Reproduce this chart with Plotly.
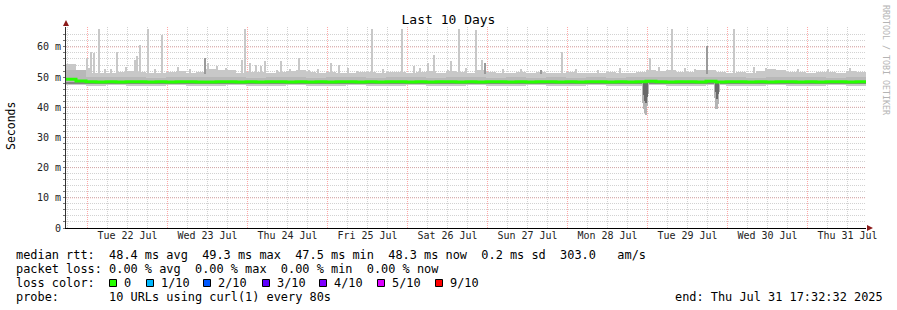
import plotly.graph_objects as go
import pandas as pd

# ---------------- data ----------------
START = "2025-07-21 17:32:32"
END = "2025-07-31 17:32:32"

# upper edge of the smoke, 3-hour bins (ms)
ping_max = [54.2, 52.5, 51.5, 51.5, 51.2, 51.6, 52.0, 51.8, 51.5, 51.3,
            51.8, 52.0, 51.5, 51.8, 52.8, 52.5, 52.2, 51.5, 51.8, 51.6,
            51.4, 51.8, 52.0, 52.3, 51.8, 51.4, 51.7, 51.5, 51.3, 51.6,
            51.8, 51.4, 51.6, 51.8, 51.5, 51.6, 51.9, 51.5, 52.0, 51.6,
            51.4, 52.2, 51.8, 51.5, 51.4, 51.6, 51.3, 51.7, 51.5, 51.4,
            51.6, 51.3, 51.5, 51.4, 51.6, 51.5, 51.3, 51.6, 52.3, 52.0,
            52.4, 51.6, 51.8, 52.2, 52.4, 51.6, 51.5, 51.7, 51.5, 52.0,
            52.8, 52.2, 51.6, 51.8, 51.5, 51.7, 51.6, 51.4, 52.0, 51.6]

# median rtt, 3-hour bins (ms)
median_rtt = [49.3, 48.7, 48.5, 48.4, 48.5, 48.4, 48.5, 48.5, 48.4, 48.5,
              48.4, 48.5, 48.5, 48.4, 48.4, 48.5, 48.5, 48.4, 48.5, 48.4,
              48.5, 48.5, 48.4, 48.5, 48.4, 48.5, 48.4, 48.5, 48.5, 48.4,
              48.5, 48.4, 48.5, 48.5, 48.4, 48.5, 48.4, 48.5, 48.5, 48.4,
              48.5, 48.4, 48.5, 48.5, 48.4, 48.5, 48.4, 48.5, 48.5, 48.4,
              48.5, 48.4, 48.5, 48.5, 48.4, 48.5, 48.4, 48.5, 48.6, 48.5,
              48.4, 48.5, 48.5, 48.4, 48.6, 48.4, 48.5, 48.5, 48.4, 48.5,
              48.4, 48.5, 48.5, 48.4, 48.5, 48.4, 48.5, 48.5, 48.4, 48.5]

# inner smoke layers, 6-hour bins (ms)
ping_upper = [52.2, 50.1, 49.9, 50.0, 49.8, 49.9, 50.1, 50.0, 49.9, 49.8,
              50.0, 49.9, 49.8, 49.9, 50.0, 49.8, 49.9, 49.9, 49.8, 50.0,
              49.9, 49.8, 49.9, 49.8, 49.9, 49.8, 49.9, 49.8, 49.9, 50.1,
              49.9, 50.0, 50.1, 49.9, 49.8, 49.9, 50.0, 49.9, 49.8, 49.9]
ping_lower = [47.9, 47.7, 47.7, 47.6, 47.7, 47.6, 47.7, 47.7, 47.6, 47.7,
              47.6, 47.7, 47.7, 47.6, 47.7, 47.6, 47.7, 47.7, 47.6, 47.7,
              47.6, 47.7, 47.6, 47.7, 47.7, 47.6, 47.7, 47.6, 47.7, 47.6,
              47.7, 47.6, 47.7, 47.6, 47.7, 47.7, 47.6, 47.7, 47.6, 47.7]
ping_min = [47.4, 47.2, 47.3, 47.2, 47.2, 47.3, 47.2, 47.2, 47.3, 47.2,
            47.2, 47.3, 47.2, 47.2, 47.3, 47.2, 47.2, 47.3, 47.2, 47.2,
            47.3, 47.2, 47.2, 47.3, 47.2, 47.2, 47.3, 47.2, 47.2, 47.3,
            47.2, 47.2, 47.3, 47.2, 47.2, 47.3, 47.2, 47.2, 47.3, 47.2]

# individual high pings (light smoke spikes)
spike_times = ["2025-07-21 23:42", "2025-07-22 00:54", "2025-07-22 01:48", "2025-07-22 03:18",
               "2025-07-22 05:06", "2025-07-22 08:42", "2025-07-22 14:06", "2025-07-22 14:42",
               "2025-07-22 15:36", "2025-07-22 18:00", "2025-07-22 22:12", "2025-07-23 12:00",
               "2025-07-23 14:42", "2025-07-23 22:12", "2025-07-23 23:06", "2025-07-24 00:36",
               "2025-07-24 02:24", "2025-07-24 03:54", "2025-07-24 05:06", "2025-07-24 08:42",
               "2025-07-24 09:54", "2025-07-24 15:18", "2025-07-24 18:18", "2025-07-25 00:54",
               "2025-07-25 03:18", "2025-07-25 08:42", "2025-07-25 13:12", "2025-07-25 22:12",
               "2025-07-26 01:48", "2025-07-26 06:00", "2025-07-26 07:48", "2025-07-26 12:00",
               "2025-07-26 12:54", "2025-07-26 15:18", "2025-07-26 20:24", "2025-07-26 22:12",
               "2025-07-27 22:12", "2025-07-29 00:36", "2025-07-29 07:12", "2025-07-30 01:48",
               # small bumps on the smoke edge
               "2025-07-22 00:18", "2025-07-22 06:54", "2025-07-22 11:24", "2025-07-22 20:06",
               "2025-07-23 03:00", "2025-07-23 06:36", "2025-07-23 17:24", "2025-07-24 12:36",
               "2025-07-24 21:00", "2025-07-25 06:00", "2025-07-25 16:30", "2025-07-26 03:36",
               "2025-07-26 17:24", "2025-07-27 04:30", "2025-07-27 09:54", "2025-07-28 02:24",
               "2025-07-28 09:00", "2025-07-28 15:36", "2025-07-29 03:18", "2025-07-29 11:06",
               "2025-07-29 14:06", "2025-07-30 07:48", "2025-07-30 11:24", "2025-07-30 13:12",
               "2025-07-30 21:00", "2025-07-31 06:00", "2025-07-31 12:36"]
spike_tops = [56.4, 58.4, 58.0, 66.0, 52.6, 58.3, 55.7, 57.0,
              60.8, 66.0, 64.0, 54.7, 53.7, 55.7, 66.0, 54.7,
              54.0, 53.7, 55.4, 52.4, 55.4, 56.4, 52.4, 54.7,
              54.0, 52.0, 66.0, 66.0, 53.7, 54.7, 57.4, 52.4,
              55.4, 66.0, 65.5, 55.7, 58.4, 56.4, 66.0, 66.0,
              53.0, 52.8, 53.2, 52.6, 53.4, 52.7, 53.0, 52.8,
              52.6, 53.0, 52.7, 53.1, 52.9, 52.6, 52.8, 52.7,
              52.5, 52.9, 53.2, 53.0, 52.8, 53.4, 53.0, 52.7,
              52.8, 52.6, 53.1]

# darker narrow spikes
dark_spike_times = ["2025-07-23 11:06", "2025-07-26 23:06", "2025-07-27 15:54", "2025-07-29 17:42"]
dark_spike_tops = [56.4, 54.7, 52.4, 60.3]

# low pings (dips below median)
dip_times = ["2025-07-28 22:30", "2025-07-28 22:48", "2025-07-28 23:06", "2025-07-28 23:24",
             "2025-07-28 23:42", "2025-07-29 00:00", "2025-07-29 20:06", "2025-07-29 20:24",
             "2025-07-29 20:42", "2025-07-29 21:00", "2025-07-29 21:18"]
dip_bottoms = [41.5, 39.5, 38.0, 37.6, 40.5, 44.5, 43.0, 39.5, 39.3, 41.0, 45.0]
dip_core_times = ["2025-07-28 22:48", "2025-07-28 23:06", "2025-07-28 23:24", "2025-07-28 23:42",
                  "2025-07-29 20:24", "2025-07-29 20:42", "2025-07-29 21:00"]
dip_core_bottoms = [44.0, 42.0, 41.5, 43.5, 45.0, 42.8, 44.5]

y_ticks = [0, 10, 20, 30, 40, 50, 60]
y_tick_text = ["0", "10 m", "20 m", "30 m", "40 m", "50 m", "60 m"]

rtt_stats = ["48.4", "49.3", "47.5", "48.3", "0.2", "303.0"]
loss_stats = ["0.00", "0.00", "0.00", "0.00"]
loss_labels = ["0", "1/10", "2/10", "3/10", "4/10", "5/10", "9/10"]
loss_colors = ["#26ff00", "#00b8ff", "#0059ff", "#5e00ff", "#7e00ff", "#dd00ff", "#ff0000"]
probe_text = "10 URLs using curl(1) every 80s"
end_text = "Thu Jul 31 17:32:32 2025"

# ---------------- styling constants ----------------
C_LIGHT = "#c8c8c8"
C_MED = "#b8b8b8"
C_DARK = "#858585"
C_GREEN = loss_colors[0]
MONO = "DejaVu Sans Mono"
PX_MS = 1080000  # one pixel of the time axis, in ms

t0 = pd.Timestamp(START)
H3, H6 = pd.Timedelta(hours=3), pd.Timedelta(hours=6)
t3_start = [t0 + H3 * i for i in range(len(ping_max))]
t3_mid = [t + H3 / 2 for t in t3_start]
t6_mid = [t0 + H6 * i + H6 / 2 for i in range(len(ping_upper))]
W3 = 3 * 3600 * 1000
W6 = 6 * 3600 * 1000

fig = go.Figure()


def band(x, lo, hi, width, color):
    fig.add_bar(x=x, base=lo, y=[h - l for h, l in zip(hi, lo)], width=width,
                marker=dict(color=color, line=dict(width=0)), hoverinfo="skip")


n3, n6 = len(t3_mid), len(t6_mid)
band(t3_mid, [48.0] * n3, ping_max, W3, C_LIGHT)
band(t6_mid, ping_min, [48.6] * n6, W6, C_LIGHT)
band(t6_mid, [48.4] * n6, ping_upper, W6, C_MED)
band(t6_mid, ping_lower, [48.4] * n6, W6, C_DARK)

sp_x = pd.to_datetime(spike_times)
band(sp_x, [51.0] * len(sp_x), spike_tops, 2 * PX_MS, C_LIGHT)
dk_x = pd.to_datetime(dark_spike_times)
band(dk_x, [51.0] * len(dk_x), dark_spike_tops, 1 * PX_MS, "#9a9a9a")

dp_x = pd.to_datetime(dip_times)
band(dp_x, dip_bottoms, [48.0] * len(dp_x), PX_MS, "#b4b4b4")
dc_x = pd.to_datetime(dip_core_times)
band(dc_x, dip_core_bottoms, [48.0] * len(dc_x), PX_MS, "#6a6a6a")

# median line
fig.add_scatter(x=t3_start + [pd.Timestamp(END)], y=median_rtt + [median_rtt[-1]],
                mode="lines", line=dict(color=C_GREEN, width=3, shape="hv"), hoverinfo="skip")

# invisible anchor trace for the label axis
fig.add_scatter(x=[START, END], y=[0, 0], xaxis="x2", mode="markers",
                marker=dict(opacity=0), hoverinfo="skip")

# ---------------- layout ----------------
L, R, T, B, W, H = 66, 31, 27, 82, 897, 310
PW, PH = W - L - R, H - T - B


def px(xp):
    return (xp - L) / PW


def py(yp):
    return (H - B - yp) / PH


grid_major = "rgba(255,110,110,0.6)"
grid_minor = "rgba(165,165,165,0.5)"

# grid positions: midnights (major, red), every 6 h otherwise (minor); labels at noon
midnights = list(pd.date_range("2025-07-22", "2025-07-31", freq="D"))
minor_x = [t for t in pd.date_range("2025-07-21 18:00", END, freq="6h") if t.hour != 0]
noons = [d + pd.Timedelta(hours=12) for d in midnights]
grid_y = list(range(0, 66, 2))
grid_y_text = [y_tick_text[y_ticks.index(v)] if v in y_ticks else "" for v in grid_y]
major_y = [v for v in y_ticks if v > 0]

fig.update_layout(
    width=W, height=H,
    margin=dict(l=L, r=R, t=T, b=B, pad=0),
    paper_bgcolor="white", plot_bgcolor="white",
    barmode="overlay", bargap=0, showlegend=False,
    font=dict(family=MONO, size=10, color="#000"),
    title=dict(text="Last 10 Days", x=0.5, xref="container", xanchor="center",
               y=1 - 19 / H, yref="container", yanchor="middle",
               font=dict(family=MONO, size=13, color="#000")),
    xaxis=dict(
        type="date", range=[START, END],
        tickmode="array", tickvals=minor_x, showticklabels=False,
        showgrid=True, gridcolor=grid_minor, griddash="1px,1px", gridwidth=1,
        showline=True, linecolor="#000", linewidth=1,
        ticks="", zeroline=False,
    ),
    xaxis2=dict(
        type="date", range=[START, END], overlaying="x", side="bottom", anchor="y",
        tickmode="array", tickvals=noons, tickformat="%a %d %b",
        showgrid=False, showline=False, ticks="", zeroline=False,
        tickfont=dict(family=MONO, size=10, color="#222"),
        ticklabelstandoff=0,
    ),
    yaxis=dict(
        range=[0, 66.6], tickmode="array", tickvals=grid_y, ticktext=grid_y_text,
        showgrid=True, gridcolor=grid_minor, griddash="1px,1px", gridwidth=1,
        showline=True, linecolor="#333", linewidth=1,
        ticks="outside", ticklen=2, tickcolor="#777",
        zeroline=False,
        tickfont=dict(family=MONO, size=10, color="#222"),
    ),
)

shapes = []
# major (red) grid lines
for d in midnights:
    shapes.append(dict(type="line", xref="x", yref="paper", x0=d, x1=d, y0=0, y1=1,
                       layer="below", line=dict(color=grid_major, width=1, dash="1px,1px")))
for v in major_y:
    shapes.append(dict(type="line", xref="paper", yref="y", x0=0, x1=1, y0=v, y1=v,
                       layer="below", line=dict(color=grid_major, width=1, dash="1px,1px")))
# axis arrows
shapes.append(dict(type="path", xref="paper", yref="paper",
                   path=f"M {px(63)} {py(26)} L {px(69)} {py(26)} L {px(66)} {py(20)} Z",
                   fillcolor="#8b1a1a", line=dict(width=0)))
shapes.append(dict(type="path", xref="paper", yref="paper",
                   path=f"M {px(867)} {py(225)} L {px(867)} {py(231)} L {px(873)} {py(228)} Z",
                   fillcolor="#8b1a1a", line=dict(width=0)))

annotations = []


def text(s, xp, yp, anchor="left", size=11.9, color="#000", angle=0, family=MONO):
    annotations.append(dict(text=s.replace(" ", "\u00a0"), x=px(xp), y=py(yp), xref="paper", yref="paper",
                            xanchor=anchor, yanchor="middle", showarrow=False, textangle=angle,
                            font=dict(family=family, size=size, color=color)))


line1 = (f"median rtt:  {rtt_stats[0]} ms avg  {rtt_stats[1]} ms max  {rtt_stats[2]} ms min  "
         f"{rtt_stats[3]} ms now  {rtt_stats[4]} ms sd  {rtt_stats[5]}   am/s")
line2 = (f"packet loss: {loss_stats[0]} % avg  {loss_stats[1]} % max  "
         f"{loss_stats[2]} % min  {loss_stats[3]} % now")
text(line1, 14, 254.5)
text(line2, 14, 268.5)
text("loss color:", 14, 282.5)
text("probe:       " + probe_text, 14, 296.5)
text("end: " + end_text, 885, 296.5, anchor="right")

key_x = [109, 146, 203, 262, 319, 377, 435]
for kx, lab, col in zip(key_x, loss_labels, loss_colors):
    shapes.append(dict(type="rect", xref="paper", yref="paper",
                       x0=px(kx + 0.5), x1=px(kx + 7.5), y0=py(286.5), y1=py(279.5),
                       fillcolor=col, line=dict(color="#000", width=1)))
    text(lab, kx + 13, 282.5)

text("Seconds", 11, 126, anchor="center", size=11.5, angle=-90)
text("RRDTOOL / TOBI OETIKER", 886, 60, anchor="center", size=8.3, color="#b4b4b4", angle=90)

fig.update_layout(shapes=shapes, annotations=annotations)

fig.write_html("out.html")
